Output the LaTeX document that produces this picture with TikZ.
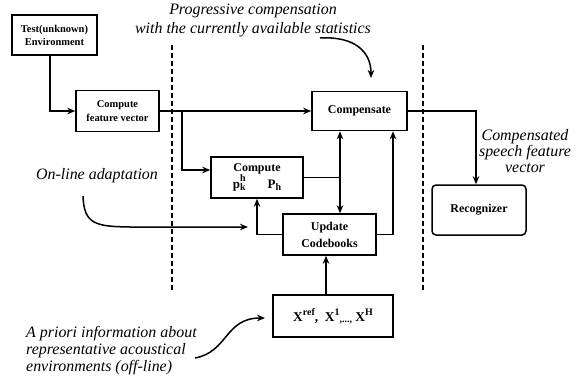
\documentclass[tikz,border=0pt]{standalone}
\usepackage{fontspec}
\setmainfont{Liberation Serif}
\usetikzlibrary{arrows.meta,calc}
\newcommand\supsubx[3]{#1\makebox[0pt][l]{\raisebox{1.15ex}{\fontsize{10}{10}\selectfont #2}}\raisebox{-0.45ex}{\fontsize{10}{10}\selectfont #3}}
\newcommand\supx[1]{\raisebox{1.0ex}{\fontsize{10}{10}\selectfont #1}}
\begin{document}
\begin{tikzpicture}[x=1bp,y=1bp,
  box/.style={draw,line width=1.5bp,inner sep=0pt,font=\fontsize{12}{17}\selectfont\bfseries,align=center},
  conn/.style={line width=1.5bp},
  arr/.style={conn,-{Stealth[length=8bp,width=6.5bp,inset=2.5bp]}},
  darr/.style={conn,{Stealth[length=8bp,width=6.5bp,inset=2.5bp]}-{Stealth[length=8bp,width=6.5bp,inset=2.5bp]}},
  divider/.style={line width=1.6bp,dash pattern=on 5bp off 3bp},
  lbl/.style={font=\fontsize{16}{17}\selectfont\itshape,inner sep=0pt}]
\useasboundingbox (0,0) rectangle (583,382);
% boxes
\node[box,minimum width=85bp,minimum height=40bp,font=\fontsize{10.5}{13}\selectfont\bfseries] (test) at (54.5,347) {Test(unknown)\\Environment};
\node[box,minimum width=83bp,minimum height=41bp,font=\fontsize{10.5}{14}\selectfont\bfseries] (cfv) at (117.5,271) {Compute\\feature vector};
\node[box,minimum width=95bp,minimum height=39bp] (comp) at (359.5,271) {Compensate};
\node[box,minimum width=92bp,minimum height=41bp,font=\fontsize{13}{14}\selectfont\bfseries] (cp) at (257,204.5)
  {\fontsize{12}{14}\selectfont Compute\\[-1bp]\supsubx{p}{h}{k}\hspace{22bp}\supsubx{P}{}{h}};
\node[box,minimum width=93bp,minimum height=41bp] (upd) at (329.5,147.5) {Update\\Codebooks};
\node[box,minimum width=120bp,minimum height=42bp,font=\fontsize{13.5}{15}\selectfont\bfseries] (xb) at (333,66)
  {X\supx{ref}, \ X\supx{1}\raisebox{-0.2ex}{\fontsize{10}{10}\selectfont ,...,} X\supx{H}};
\node[box,rounded corners=4bp,minimum width=94bp,minimum height=50bp] (rec) at (479,172) {Recognizer};
% labels
\node[lbl,align=center,font=\fontsize{16}{17}\selectfont\itshape] (prog) at (253,362) {Progressive compensation\\[2bp]with the currently available statistics};
\node[lbl] (online) at (97,206) {On-line adaptation};
\node[lbl,align=center,font=\fontsize{16}{16}\selectfont\itshape] (cspf) at (525,231) {Compensated\\speech feature\\vector};
\node[lbl,align=left,anchor=west] (apri) at (26,31) {A priori information about\\representative acoustical\\environments (off-line)};
% dividers
\coordinate (d1t) at (172,337); \coordinate (d1b) at (172,92);
\coordinate (d2t) at (423,337); \coordinate (d2b) at (423,90);
\draw[divider] (d1t) -- (d1b);
\draw[divider] (d2t) -- (d2b);
% helper coordinates
\coordinate (br) at (182,271);
\coordinate (dv) at (340,0);
\coordinate (rv) at (393,0);
\coordinate (xv) at (326,0);
% connectors
\draw[arr] ([xshift=-4.5bp]test.south) |- (cfv.west);
\draw[arr] (cfv.east) -- (comp.west);
\draw[arr] (br) |- ($(cp.west)+(0,7.5)$);
\draw[conn] (cp.east) -- (cp.east -| dv);
\draw[darr] (dv |- comp.south) -- (dv |- upd.north);
\draw[arr] (upd.east) -| (rv |- comp.south);
\draw[arr] (upd.west) -| (cp.south);
\draw[arr] (xv |- xb.north) -- (xv |- upd.south);
\draw[arr] (comp.east) -| ([xshift=-3bp]rec.north);
% annotation arrows
\coordinate (o1) at (83,186); \coordinate (o2) at (130,155); \coordinate (o3) at (248,155);
\draw[arr] (o1) .. controls (84,158) and (95,155.5) .. (o2) -- (o3);
\coordinate (a1) at (195,24); \coordinate (a2) at (265,64);
\draw[arr] (a1) .. controls (228,30) and (225,64) .. (a2);
\coordinate (p1) at (320,344); \coordinate (p2) at (371,304);
\draw[arr] (p1) .. controls (355,346) and (371,330) .. (p2);
\end{tikzpicture}
\end{document}
